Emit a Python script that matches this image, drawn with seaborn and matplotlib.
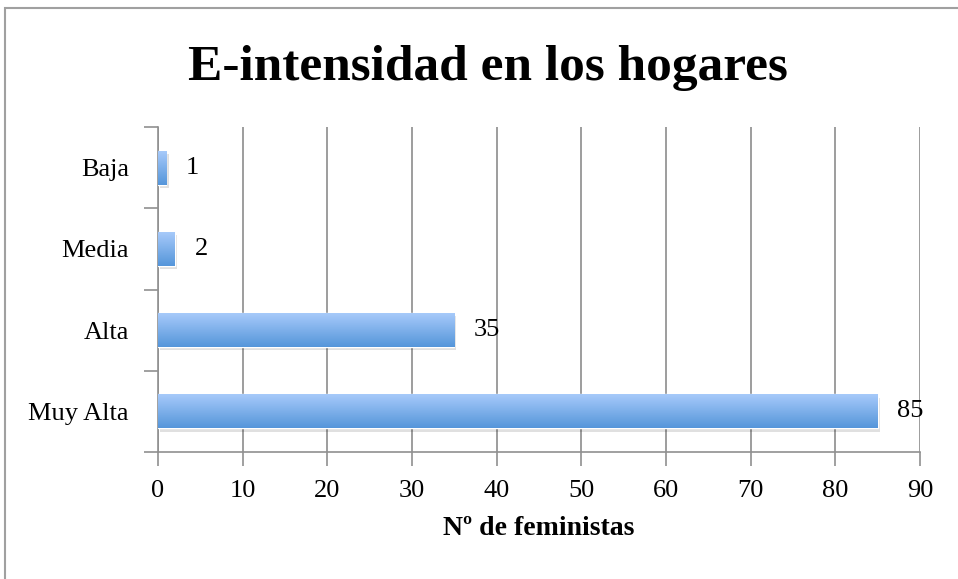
import numpy as np
import pandas as pd
import seaborn as sns
import matplotlib.pyplot as plt
from matplotlib.patches import Rectangle
from matplotlib.colors import LinearSegmentedColormap

categorias = ['Baja', 'Media', 'Alta', 'Muy Alta']
valores = [1, 2, 35, 85]
ticks_x = [0, 10, 20, 30, 40, 50, 60, 70, 80, 90]

sns.set_style('white')
plt.rcParams['font.family'] = ['Liberation Serif', 'DejaVu Serif']
plt.rcParams['text.color'] = 'black'
plt.rcParams['axes.labelcolor'] = 'black'
plt.rcParams['xtick.color'] = 'black'
plt.rcParams['ytick.color'] = 'black'

df = pd.DataFrame({'categoria': categorias, 'valor': valores})

fig = plt.figure(figsize=(9.58, 5.79), dpi=100)
ax = fig.add_axes([158 / 958, 1 - 452 / 579, (920 - 158) / 958, (452 - 127) / 579])

sns.barplot(data=df, x='valor', y='categoria', orient='h', color='#7fb0ec',
            width=0.42, ax=ax, zorder=3)

# degradado azul en cada barra, con sombra
grad = LinearSegmentedColormap.from_list('azul', ['#5596da', '#a9cbfb'])
for p in ax.patches:
    x0, y0 = p.get_x(), p.get_y()
    w, h = p.get_width(), p.get_height()
    sombra = Rectangle((x0 + 0.25, y0 + 0.04), w, h, color='#000000', alpha=0.12,
                       zorder=2, linewidth=0)
    ax.add_patch(sombra)
    img = ax.imshow(np.linspace(0, 1, 100).reshape(-1, 1), cmap=grad, aspect='auto',
                    extent=(x0, x0 + w, y0 + h, y0), zorder=4, origin='lower')
    img.set_clip_path(p)
    ax.annotate(f'{w:g}', (x0 + w, y0 + h / 2), xytext=(14, 0), textcoords='offset points',
                va='center', ha='left', fontsize=19, color='black', zorder=5)

ax.set_xlim(0, 90)
ax.set_ylim(3.5, -0.5)
ax.set_xticks(ticks_x)
ax.set_xticklabels([str(t) for t in ticks_x], fontsize=19)
ax.set_yticks(range(len(categorias)))
ax.set_yticklabels(categorias, fontsize=19)
ax.set_yticks(np.arange(-0.5, len(categorias), 1), minor=True)
ax.tick_params(axis='y', which='major', left=True, length=0, pad=21)
ax.tick_params(axis='y', which='minor', left=True, length=10, color='#909090', width=1.2,
               direction='out')
ax.tick_params(axis='x', bottom=True, length=10, color='#909090', width=1.2,
               direction='out', pad=10)
ax.xaxis.grid(True, color='#8c8c8c', linewidth=1.2, zorder=0)
ax.set_axisbelow(True)
for s in ['top', 'right']:
    ax.spines[s].set_visible(False)
for s in ['left', 'bottom']:
    ax.spines[s].set_color('#909090')
    ax.spines[s].set_linewidth(1.2)

ax.set_ylabel('')
ax.set_xlabel('Nº de feministas', fontsize=20, fontweight='bold', labelpad=10, color='black')

fig.text(488 / 958, 1 - 68 / 579, 'E-intensidad en los hogares', ha='center', va='center',
         fontsize=37, fontweight='bold')

# marco del gráfico
fig.patches.append(Rectangle((5 / 958, -0.1), 1.1, 1 - 8 / 579 + 0.1, transform=fig.transFigure,
                             fill=False, edgecolor='#a0a0a0', linewidth=1.5))

fig.savefig('out.png', dpi=100)
